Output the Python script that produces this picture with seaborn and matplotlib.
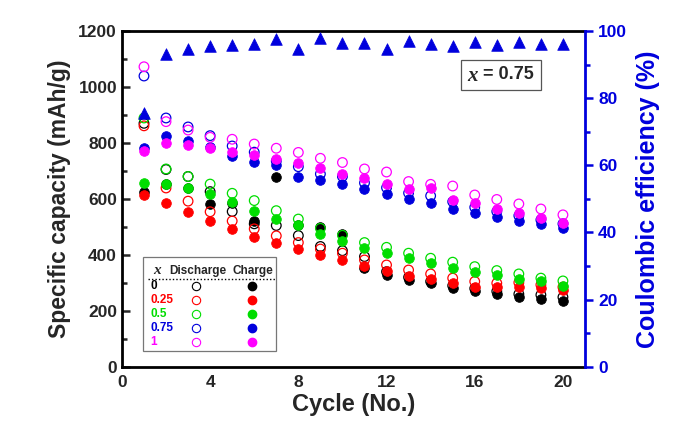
import numpy as np
import pandas as pd
import matplotlib
matplotlib.use("Agg")
import matplotlib.pyplot as plt
import seaborn as sns
from matplotlib.ticker import MultipleLocator
from matplotlib.patches import Rectangle
from matplotlib.lines import Line2D

sns.set_style("white")
plt.rcParams['font.family'] = ['Liberation Sans', 'DejaVu Sans']
plt.rcParams['font.weight'] = 'bold'

cycles = list(range(1, 21))

# x = 0
dis_0 = [870, 705, 680, 626, 555, 511, 505, 469, 430, 415, 394, 340, 320, 305, 290, 280, 270, 260, 257, 249]
chg_0 = [625, 652, 639, 580, 585, 520, 679, 507, 501, 475, 353, 329, 311, 299, 281, 271, 260, 249, 243, 237]
# x = 0.25
dis_25 = [861, 639, 592, 554, 521, 493, 468, 444, 421, 406, 382, 364, 346, 332, 317, 305, 299, 301, 293, 285]
chg_25 = [614, 584, 553, 521, 493, 465, 443, 421, 398, 380, 361, 343, 325, 314, 299, 287, 285, 285, 281, 275]
# x = 0.5
dis_5 = [889, 707, 680, 653, 620, 594, 558, 528, 495, 470, 444, 427, 406, 388, 374, 358, 344, 332, 317, 307]
chg_5 = [657, 653, 639, 618, 588, 558, 528, 507, 475, 448, 425, 407, 388, 370, 352, 340, 329, 314, 305, 289]
# x = 0.75
dis_75 = [1039, 889, 857, 826, 789, 767, 735, 715, 689, 680, 657, 640, 621, 611, 590, 570, 555, 540, 525, 511]
chg_75 = [783, 823, 808, 785, 753, 731, 721, 677, 668, 652, 634, 618, 599, 584, 565, 550, 537, 521, 510, 495]
# x = 1
dis_1 = [1072, 876, 846, 820, 813, 796, 781, 766, 745, 730, 707, 696, 662, 652, 646, 614, 598, 582, 564, 543]
chg_1 = [771, 801, 793, 782, 769, 757, 742, 727, 709, 689, 676, 652, 634, 640, 595, 585, 563, 549, 531, 515]
# Coulombic efficiency (x = 0.75)
ce_75 = [75.7, 93.1, 94.6, 95.5, 95.8, 96.0, 97.6, 94.6, 97.8, 96.3,
         96.3, 94.5, 97.0, 96.1, 95.6, 96.8, 95.8, 96.8, 96.1, 96.0]

labels = ['0', '0.25', '0.5', '0.75', '1']
colors = ['#000000', '#ff0000', '#00dd00', '#0000dd', '#ff00ff']
discharge = [dis_0, dis_25, dis_5, dis_75, dis_1]
charge = [chg_0, chg_25, chg_5, chg_75, chg_1]

fig = plt.figure(figsize=(6.85, 4.42), dpi=100)
ax = fig.add_axes([0.178, 0.170, 0.676, 0.760])

for i, (lab, col, d, c) in enumerate(zip(labels, colors, discharge, charge)):
    sns.scatterplot(x=cycles, y=c, ax=ax, color=col, s=48, marker='o',
                    edgecolor=col, linewidth=0.6, zorder=3 + i * 0.1)
    sns.scatterplot(x=cycles, y=d, ax=ax, s=48, marker='o',
                    facecolor='none', edgecolor=col, linewidth=0.9, zorder=3.05 + i * 0.1)

ax.set_xlim(0, 21)
ax.set_ylim(0, 1200)
ax.xaxis.set_major_locator(MultipleLocator(4))
ax.xaxis.set_minor_locator(MultipleLocator(2))
ax.yaxis.set_major_locator(MultipleLocator(200))
ax.yaxis.set_minor_locator(MultipleLocator(100))
ax.tick_params(axis='both', which='both', direction='in', width=1.8,
               top=False, right=False, labelsize=12.5)
ax.tick_params(which='major', length=6)
ax.tick_params(which='minor', length=3.5)
ax.tick_params(axis='x', pad=6)
for lbl in ax.get_xticklabels() + ax.get_yticklabels():
    lbl.set_fontweight('bold')
ax.set_xlabel('Cycle (No.)', fontsize=17, fontweight='bold', labelpad=2)
ax.set_ylabel('Specific capacity (mAh/g)', fontsize=16.5, fontweight='bold', labelpad=5)
for sp in ['left', 'bottom', 'top']:
    ax.spines[sp].set_linewidth(2)
    ax.spines[sp].set_color('black')
ax.spines['right'].set_visible(False)

ax2 = ax.twinx()
sns.scatterplot(x=cycles, y=ce_75, ax=ax2, marker='^', s=70, color='#0000dd',
                edgecolor='#0000dd', linewidth=0.5, zorder=5)
ax2.set_ylim(0, 100)
ax2.yaxis.set_major_locator(MultipleLocator(20))
ax2.yaxis.set_minor_locator(MultipleLocator(10))
ax2.tick_params(axis='y', which='both', direction='out', colors='#0000dd',
                width=1.8, labelsize=12.5)
ax2.tick_params(which='major', length=6)
ax2.tick_params(which='minor', length=3.5)
for lbl in ax2.get_yticklabels():
    lbl.set_fontweight('bold')
ax2.set_ylabel('Coulombic efficiency (%)', fontsize=18, fontweight='bold',
               color='#0000dd', labelpad=6)
ax2.spines['right'].set_color('#0000dd')
ax2.spines['right'].set_linewidth(2)
for sp in ['left', 'bottom', 'top']:
    ax2.spines[sp].set_visible(False)

# annotation box
ax.add_patch(Rectangle((0.732, 0.824), 0.173, 0.090, transform=ax.transAxes,
                       facecolor='white', edgecolor='#555555', linewidth=0.9, zorder=9))
ax.text(0.757, 0.866, 'x', transform=ax.transAxes, ha='center', va='center',
        fontsize=15, fontstyle='italic', family='Liberation Serif', fontweight='bold', zorder=10)
ax.text(0.780, 0.869, '= 0.75', transform=ax.transAxes, ha='left', va='center',
        fontsize=13, fontweight='bold', zorder=10)

# custom legend
ax.add_patch(Rectangle((0.045, 0.048), 0.288, 0.279, transform=ax.transAxes,
                       facecolor='white', edgecolor='#777777', linewidth=0.9, zorder=9))
ax.text(0.076, 0.286, 'x', transform=ax.transAxes, ha='center', va='center',
        fontsize=11, fontstyle='italic', family='Liberation Serif', zorder=10)
ax.text(0.164, 0.286, 'Discharge', transform=ax.transAxes, ha='center', va='center',
        fontsize=8.5, fontweight='bold', zorder=10)
ax.text(0.283, 0.286, 'Charge', transform=ax.transAxes, ha='center', va='center',
        fontsize=8.5, fontweight='bold', zorder=10)
ax.add_line(Line2D([0.056, 0.333], [0.262, 0.262], transform=ax.transAxes,
                   color='black', linestyle=(0, (1, 1.5)), linewidth=1, zorder=10))
row_y = [0.241, 0.199, 0.158, 0.116, 0.075]
for ry, lab, col in zip(row_y, labels, colors):
    ax.text(0.062, ry, lab, transform=ax.transAxes, ha='left', va='center',
            fontsize=8.5, fontweight='bold', color=col, zorder=10)
    ax.add_line(Line2D([0.160], [ry], transform=ax.transAxes, marker='o', markersize=6,
                       markerfacecolor='none', markeredgecolor=col, markeredgewidth=0.8,
                       linestyle='none', zorder=10))
    ax.add_line(Line2D([0.280], [ry], transform=ax.transAxes, marker='o', markersize=6,
                       markerfacecolor=col, markeredgecolor=col,
                       linestyle='none', zorder=10))

fig.savefig('out.png', dpi=100)
